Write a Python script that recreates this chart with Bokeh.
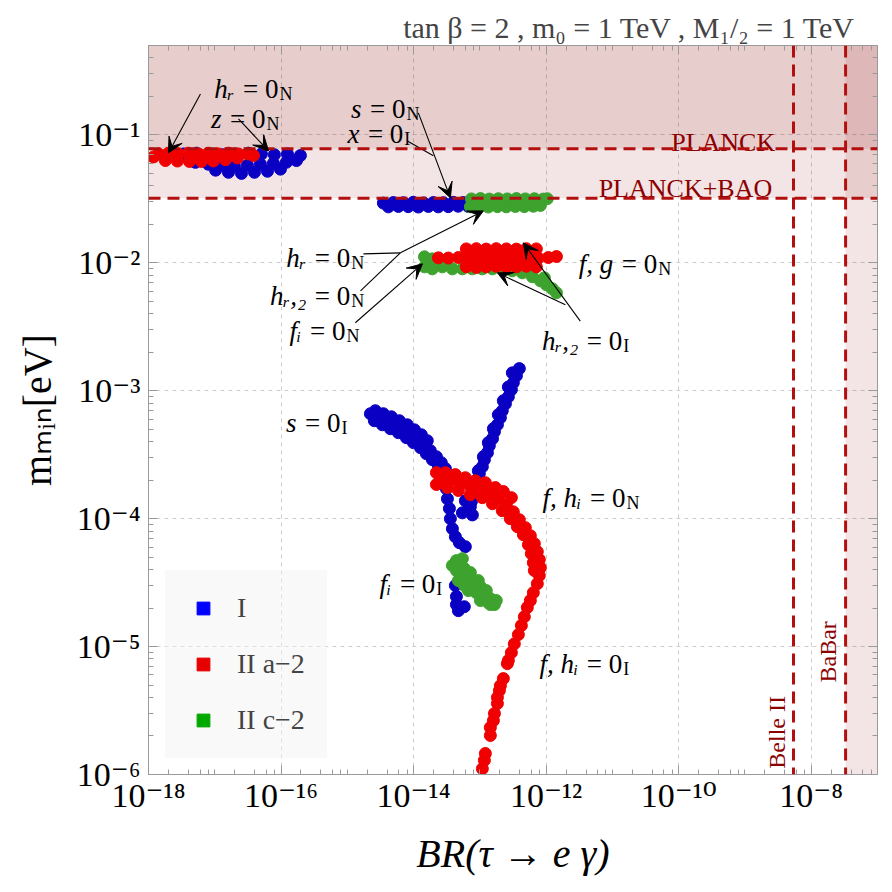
import math
from bokeh.plotting import figure
from bokeh.models import (FixedTicker, LogAxis, Span, BoxAnnotation, Arrow, VeeHead,
                          Legend, LegendItem, ColumnDataSource, Range1d)
from bokeh.core.properties import value
from bokeh.embed import file_html
from bokeh.resources import INLINE

SERIF = "Liberation Serif, DejaVu Serif, serif"
SERIF_SUB = "Liberation Serif, DejaVu Sans, sans-serif"

# ---------------- data ----------------
# Type I (blue)
typeI_br = [
    3.4e-18, 5.3e-18, 8.3e-18, 1.31e-17, 2.05e-17, 3.22e-17, 5.06e-17, 7.94e-17, 1.25e-16, 1.96e-16,
    5.1e-18, 8.0e-18, 1.26e-17, 1.98e-17, 3.11e-17, 4.89e-17, 7.67e-17, 1.2e-16, 1.71e-16,
    1.03e-17, 1.61e-17, 2.53e-17, 3.97e-17, 6.24e-17, 9.79e-17,
    3.5e-15, 4.95e-15, 7.0e-15, 9.9e-15, 1.41e-14, 1.99e-14, 2.81e-14, 3.98e-14, 5.6e-14, 7.98e-14,
    4.17e-15, 5.9e-15, 8.3e-15, 1.18e-14, 1.67e-14, 2.36e-14, 3.34e-14, 4.7e-14, 6.7e-14, 8.85e-14,
    2.23e-15, 2.94e-15, 3.89e-15, 5.13e-15, 6.78e-15, 8.95e-15, 1.14e-14, 1.46e-14, 1.79e-14, 2.21e-14, 2.62e-14, 3.02e-14,
    2.56e-15, 3.38e-15, 4.47e-15, 5.90e-15, 7.78e-15, 9.93e-15, 1.27e-14, 1.56e-14, 1.92e-14, 2.37e-14,
    2.65e-15, 3.50e-15, 4.62e-15, 6.11e-15, 8.05e-15, 1.03e-14, 1.31e-14, 1.61e-14,
    2.92e-14, 3.13e-14, 3.24e-14, 3.47e-14, 3.59e-14, 3.85e-14, 4.27e-14, 4.91e-14, 6.04e-14,
    6.04e-14, 7.19e-14, 7.71e-14, 5.45e-14, 4.27e-14, 4.43e-14, 4.43e-14, 5.83e-14, 4.74e-14,
    3.94e-13, 3.56e-13, 3.20e-13, 2.99e-13, 2.69e-13, 2.43e-13, 2.18e-13, 2.04e-13, 1.84e-13, 1.66e-13,
    1.55e-13, 1.39e-13, 1.30e-13, 1.17e-13, 1.09e-13, 9.82e-14, 9.16e-14, 8.55e-14, 7.98e-14, 7.45e-14, 6.95e-14,
    3.09e-13, 2.69e-13, 2.26e-13, 1.90e-13, 1.60e-13, 1.34e-13, 1.13e-13, 9.48e-14, 8.26e-14, 7.19e-14,
]
typeI_mmin = [
    0.071, 0.072, 0.071, 0.070, 0.071, 0.072, 0.071, 0.070, 0.071, 0.069,
    0.061, 0.059, 0.058, 0.057, 0.058, 0.059, 0.060, 0.061, 0.063,
    0.053, 0.051, 0.050, 0.051, 0.052, 0.054,
    0.0293, 0.0296, 0.0295, 0.0297, 0.0294, 0.0296, 0.0295, 0.0297, 0.0296, 0.0298,
    0.0274, 0.0276, 0.0275, 0.0273, 0.0276, 0.0274, 0.0275, 0.0277, 0.0276, 0.0278,
    6.61e-4, 6.15e-4, 5.83e-4, 5.42e-4, 5.05e-4, 4.61e-4, 4.22e-4, 3.79e-4, 3.40e-4, 3.05e-4, 2.74e-4, 2.46e-4,
    5.83e-4, 5.42e-4, 5.05e-4, 4.70e-4, 4.30e-4, 3.93e-4, 3.59e-4, 3.22e-4, 2.89e-4, 2.59e-4,
    6.98e-4, 6.61e-4, 6.26e-4, 5.83e-4, 5.42e-4, 4.95e-4, 4.53e-4, 4.07e-4,
    2.05e-4, 1.71e-4, 1.43e-4, 1.20e-4, 1.0e-4, 8.35e-5, 7.23e-5, 6.49e-5, 6.04e-5,
    1.38e-4, 1.24e-4, 1.07e-4, 1.11e-4, 3.0e-5, 2.46e-5, 2.13e-5, 2.05e-5, 1.91e-5,
    1.49e-3, 1.31e-3, 1.155e-3, 1.02e-3, 8.97e-4, 7.91e-4, 6.98e-4, 6.15e-4, 5.42e-4, 4.79e-4,
    4.22e-4, 3.72e-4, 3.28e-4, 2.89e-4, 2.55e-4, 2.25e-4, 1.98e-4, 1.75e-4, 1.54e-4, 1.36e-4, 1.20e-4,
    1.38e-3, 1.07e-3, 8.35e-4, 6.49e-4, 5.05e-4, 3.93e-4, 3.05e-4, 2.37e-4, 1.85e-4, 1.43e-4,
]

# Type II c-2 (green)
typeIIc_br = [
    7.45e-14, 1.02e-13, 1.39e-13, 1.90e-13, 2.60e-13, 3.56e-13, 4.85e-13, 6.64e-13, 9.08e-13, 1.04e-12,
    7.2e-14, 9.8e-14, 1.34e-13, 1.84e-13, 2.51e-13, 3.43e-13, 4.69e-13, 6.41e-13, 8.19e-13,
    1.46e-14, 1.46e-14, 1.92e-14, 1.92e-14, 2.72e-14, 3.85e-14, 5.45e-14, 7.7e-14, 1.09e-13, 1.55e-13,
    2.18e-13, 3.09e-13, 4.38e-13, 6.2e-13, 8.19e-13, 1.01e-12, 1.24e-12, 1.43e-12, 6.2e-13, 9.4e-13,
    4.43e-14, 5.45e-14, 4.43e-14, 5.83e-14, 7.19e-14, 4.74e-14, 6.25e-14, 8.26e-14, 1.02e-13, 6.71e-14,
    8.85e-14, 1.17e-13, 1.44e-13, 1.02e-13, 1.34e-13, 1.66e-13,
    3.85e-14, 5.08e-14, 6.71e-14, 7.71e-14, 1.09e-13, 1.44e-13, 9.48e-14, 1.25e-13, 5.83e-14, 1.77e-13,
]
typeIIc_mmin = [
    0.0316, 0.0318, 0.0315, 0.0317, 0.0316, 0.0318, 0.0316, 0.0317, 0.0315, 0.0317,
    0.0274, 0.0275, 0.0273, 0.0275, 0.0274, 0.0276, 0.0275, 0.0277, 0.0281,
    0.01114, 0.0093, 0.01074, 0.00897, 0.0093, 0.00897, 0.00897, 0.00897, 0.00897, 0.00897,
    0.00897, 0.00866, 0.00835, 0.00778, 0.00723, 0.00673, 0.00627, 0.00583, 0.00866, 0.00764,
    4.70e-5, 4.87e-5, 3.93e-5, 4.07e-5, 3.79e-5, 3.28e-5, 3.28e-5, 3.16e-5, 2.94e-5, 2.74e-5,
    2.64e-5, 2.55e-5, 2.37e-5, 2.29e-5, 2.21e-5, 2.13e-5,
    4.30e-5, 3.59e-5, 3.52e-5, 2.84e-5, 2.64e-5, 2.13e-5, 3.28e-5, 2.74e-5, 3.0e-5, 2.29e-5,
]

# Type II a-2 (red)
typeIIa_br = [
    1.19e-18, 1.42e-18, 2.0e-18, 2.83e-18, 4.0e-18, 5.7e-18, 8.0e-18, 1.14e-17, 1.61e-17, 2.28e-17, 3.2e-17, 3.84e-17,
    1.8e-18, 2.73e-18, 4.15e-18, 6.3e-18, 9.5e-18, 1.45e-17, 2.2e-17,
    6.25e-14, 8.85e-14, 1.25e-13, 1.77e-13, 2.51e-13, 3.56e-13, 5.02e-13, 7.11e-13,
    2.37e-14, 3.35e-14, 4.74e-14, 6.7e-14, 9.5e-14, 1.34e-13, 1.9e-13, 2.69e-13, 3.81e-13, 5.4e-13, 7.6e-13, 1.08e-12, 1.43e-12,
    6.25e-14, 8.85e-14, 1.25e-13, 1.77e-13, 2.51e-13, 3.56e-13, 5.02e-13, 7.11e-13,
    7.45e-14, 1.05e-13, 1.49e-13, 2.11e-13, 2.99e-13, 4.23e-13, 5.98e-13,
    7.45e-14, 1.05e-13, 1.49e-13, 2.11e-13, 2.99e-13, 4.23e-13, 5.98e-13,
    2.54e-14, 3.59e-14, 5.08e-14, 7.19e-14, 1.02e-13, 1.44e-13, 1.90e-13, 2.51e-13, 3.20e-13, 3.94e-13,
    4.85e-13, 5.78e-13, 6.64e-13, 7.36e-13, 7.89e-13, 8.18e-13, 7.89e-13, 7.36e-13, 6.41e-13, 5.78e-13,
    5.20e-13, 4.69e-13, 4.23e-13, 3.81e-13, 3.31e-13, 2.99e-13, 2.69e-13,
    3.02e-14, 4.27e-14, 6.04e-14, 8.55e-14, 1.21e-13, 1.71e-13, 2.26e-13, 2.99e-13,
    3.24e-14, 4.74e-14, 7.19e-14, 1.09e-13, 1.55e-13, 2.18e-13, 2.88e-13, 3.68e-13, 4.53e-13, 5.40e-13,
    5.98e-13, 6.41e-13, 6.64e-13, 2.21e-14, 2.21e-14, 2.60e-13,
    2.26e-13, 2.04e-13, 1.97e-13, 1.84e-13, 1.84e-13, 1.66e-13, 1.60e-13, 1.44e-13, 1.44e-13, 1.21e-13, 1.17e-13, 1.09e-13,
]
typeIIa_mmin = [
    0.0673, 0.071, 0.072, 0.071, 0.072, 0.071, 0.072, 0.071, 0.072, 0.071, 0.071, 0.069,
    0.063, 0.0625, 0.062, 0.062, 0.0625, 0.064, 0.066,
    0.01285, 0.0129, 0.0128, 0.0129, 0.01285, 0.0128, 0.0129, 0.01285,
    0.01094, 0.0109, 0.0110, 0.01094, 0.0109, 0.0110, 0.01094, 0.0109, 0.0110, 0.01094, 0.0109, 0.0110, 0.0112,
    0.0093, 0.0092, 0.0093, 0.0094, 0.0092, 0.0093, 0.0094, 0.0093,
    0.0120, 0.0119, 0.0120, 0.0121, 0.0119, 0.0120, 0.0121,
    0.0102, 0.0101, 0.0102, 0.0103, 0.0101, 0.0102, 0.0103,
    2.05e-4, 1.98e-4, 1.88e-4, 1.78e-4, 1.69e-4, 1.57e-4, 1.43e-4, 1.29e-4, 1.13e-4, 9.82e-5,
    8.51e-5, 7.36e-5, 6.38e-5, 5.52e-5, 4.79e-5, 4.14e-5, 3.59e-5, 3.10e-5, 2.64e-5, 2.29e-5,
    2.02e-5, 1.71e-5, 1.46e-5, 1.24e-5, 1.05e-5, 8.97e-6, 7.78e-6,
    2.29e-4, 2.21e-4, 2.09e-4, 1.98e-4, 1.91e-4, 1.75e-4, 1.63e-4, 1.46e-4,
    1.75e-4, 1.66e-4, 1.54e-4, 1.46e-4, 1.31e-4, 1.155e-4, 1.0e-4, 8.66e-5, 7.50e-5, 6.26e-5,
    5.33e-5, 4.53e-5, 3.93e-5, 2.29e-4, 1.85e-4, 7.36e-6,
    5.62e-6, 4.95e-6, 4.53e-6, 4.0e-6, 3.59e-6, 3.0e-6, 2.64e-6, 2.33e-6, 2.02e-6, 1.46e-6, 1.29e-6, 1.11e-6,
]

# bounds
planck = 0.078
planck_bao = 0.032
belle2 = 5.4e-9
babar = 3.3e-8

# tick labels
x_major = [1e-18, 1e-16, 1e-14, 1e-12, 1e-10, 1e-8]
x_labels = ["10⁻¹⁸", "10⁻¹⁶", "10⁻¹⁴", "10⁻¹²", "10⁻¹⁰", "10⁻⁸"]
y_major = [1e-6, 1e-5, 1e-4, 1e-3, 1e-2, 1e-1]
y_labels = ["10⁻⁶", "10⁻⁵", "10⁻⁴", "10⁻³", "10⁻²", "10⁻¹"]

# annotations (anchor = junction between "0" and its subscript)
ann_var = ["hᵣ", "z", "s", "x", "hᵣ", "hᵣ,₂", "fᵢ", "f, g", "hᵣ,₂", "s", "f, hᵢ", "fᵢ", "f, hᵢ"]
ann_eq = ["= 0"] * 13
ann_sub = ["N", "N", "N", "I", "N", "N", "N", "N", "I", "I", "N", "I", "I"]
ann_x = [9.14e-17, 5.82e-17, 7.52e-15, 7.01e-15, 1.11e-15, 1.11e-15, 9.35e-16,
         4.75e-11, 1.41e-11, 7.87e-16, 1.57e-11, 2.13e-14, 1.41e-11]
ann_y = [0.2286, 0.1334, 0.1596, 0.1019, 0.01094, 5.52e-3, 2.94e-3,
         9.82e-3, 2.45e-3, 5.62e-4, 1.46e-4, 3.10e-5, 7.36e-6]

# arrows with heads: (x_start, y_start, x_end, y_end)
arrows = [
    (6.08e-18, 0.2089, 2.0e-18, 0.0723),
    (2.28e-17, 0.1334, 6.46e-17, 0.075),
    (1.18e-14, 0.1486, 3.59e-14, 0.0322),
    (6.32e-15, 0.01197, 1.13e-13, 0.02547),
    (1.32e-15, 3.40e-3, 1.36e-14, 9.82e-3),
    (3.28e-12, 3.50e-3, 4.53e-13, 0.01432),
    (1.95e-12, 4.70e-3, 1.84e-13, 8.35e-3),
]
# plain connector lines
lines = [
    (8.05e-15, 0.0897, 1.99e-14, 0.0686),
    (1.75e-15, 0.01175, 6.32e-15, 0.01197),
    (1.58e-15, 6.04e-3, 6.32e-15, 0.01197),
]

# ---------------- figure ----------------
BLUE = "#0a00c4"
RED = "#f00000"
GREEN = "#3ea32e"
DRED = "#b30f0f"
LRED = "#8b0000"
GRAY = "#9a9a9a"

p = figure(width=892, height=892, x_axis_type="log", y_axis_type="log",
           x_range=Range1d(1e-18, 1e-7), y_range=Range1d(1e-6, 0.5),
           output_backend="svg", toolbar_location=None,
           min_border_left=148, min_border_right=15, min_border_top=45, min_border_bottom=118)
p.background_fill_color = "white"
p.outline_line_color = GRAY

xt = FixedTicker(ticks=x_major,
                 minor_ticks=[k * 10.0 ** d for d in range(-18, -7) for k in (1, 2, 4, 6, 8)])
yt = FixedTicker(ticks=y_major,
                 minor_ticks=[k * 10.0 ** d for d in range(-6, 0) for k in range(2, 10)])

for ax, tk in ((p.xaxis[0], xt), (p.yaxis[0], yt)):
    ax.ticker = tk
    ax.major_tick_in = 9
    ax.major_tick_out = 0
    ax.minor_tick_in = 5
    ax.minor_tick_out = 0
    ax.axis_line_color = GRAY
    ax.major_tick_line_color = GRAY
    ax.minor_tick_line_color = GRAY
    ax.major_label_text_font = SERIF
    ax.major_label_text_font_size = "34px"
    ax.major_label_text_color = "black"
    ax.axis_label_text_color = "black"

p.xaxis[0].major_label_overrides = dict(zip(x_major, x_labels))
p.yaxis[0].major_label_overrides = dict(zip(y_major, y_labels))
p.xaxis[0].major_label_standoff = 2
p.yaxis[0].major_label_standoff = 8
p.xaxis[0].axis_label = "BR(τ → e γ)"
p.xaxis[0].axis_label_text_font = SERIF
p.xaxis[0].axis_label_text_font_style = "italic"
p.xaxis[0].axis_label_text_font_size = "40px"
p.xaxis[0].axis_label_standoff = 14
p.yaxis[0].axis_label = "mₘᵢₙ[eV]"
p.yaxis[0].axis_label_text_font = SERIF_SUB
p.yaxis[0].axis_label_text_font_style = "normal"
p.yaxis[0].axis_label_text_font_size = "40px"
p.yaxis[0].axis_label_standoff = 14

for loc, tk in (("above", xt), ("right", yt)):
    ax = LogAxis(ticker=tk, major_tick_in=9, major_tick_out=0, minor_tick_in=5, minor_tick_out=0,
                 axis_line_color=GRAY, major_tick_line_color=GRAY, minor_tick_line_color=GRAY,
                 major_label_text_font_size="2px", major_label_text_alpha=0,
                 major_label_standoff=0)
    p.add_layout(ax, loc)

p.xgrid.ticker = xt
p.ygrid.ticker = yt
for g in (p.xgrid[0], p.ygrid[0]):
    g.grid_line_color = "#cccccc"
    g.grid_line_dash = "4 4"
    g.grid_line_width = 1

# title
p.title.text = "tan β = 2 , m₀ = 1 TeV , M₁/₂ = 1 TeV"
p.title.align = "right"
p.title.text_font = SERIF
p.title.text_font_size = "30px"
p.title.text_font_style = "normal"
p.title.standoff = 4
p.title.offset = 22

# shaded exclusion regions
for kw in (dict(bottom=planck_bao), dict(bottom=planck), dict(left=babar)):
    p.add_layout(BoxAnnotation(fill_color="#8b0000", fill_alpha=0.1, line_alpha=0,
                               level="underlay", **kw))

# legend glyph renderers (one tiny square hidden inside each cloud)
r1 = p.scatter([typeI_br[5]], [typeI_mmin[5]], marker="square", size=1, color="#0000ff")
r2 = p.scatter([typeIIa_br[5]], [typeIIa_mmin[5]], marker="square", size=1, color="#e60000")
r3 = p.scatter([typeIIc_br[5]], [typeIIc_mmin[5]], marker="square", size=1, color="#00a800")

# data
p.scatter(typeI_br, typeI_mmin, size=12, color=BLUE)
p.scatter(typeIIc_br, typeIIc_mmin, size=12, color=GREEN)
p.scatter(typeIIa_br, typeIIa_mmin, size=12, color=RED)

# dashed bound lines
for loc, dim in ((planck, "width"), (planck_bao, "width"), (belle2, "height"), (babar, "height")):
    p.add_layout(Span(location=loc, dimension=dim, line_color=DRED, line_width=3, line_dash="12 7"))

# bound labels
p.text(x=[2.86e-9, 2.58e-9], y=[0.0866, 0.0379], text=["PLANCK", "PLANCK+BAO"],
       text_align="right", text_baseline="alphabetic", text_font=value(SERIF),
       text_font_size="26px", text_color=LRED)
p.text(x=[3.0e-9, 1.82e-8], y=[1.11e-6, 5.24e-6], text=["Belle II", "BaBar"], angle=math.pi / 2,
       text_align="left", text_baseline="alphabetic", text_font=value(SERIF),
       text_font_size="24px", text_color=LRED)

# annotations: italic variable, upright "= 0", small upright subscript
src = ColumnDataSource(dict(x=ann_x, y=ann_y, var=ann_var, eq=ann_eq, sub=ann_sub))
p.text(x="x", y="y", text="var", source=src, text_align="right", text_baseline="alphabetic",
       x_offset=-44, text_font=value(SERIF), text_font_size="27px", text_font_style="italic",
       text_color="black")
p.text(x="x", y="y", text="eq", source=src, text_align="right", text_baseline="alphabetic",
       text_font=value(SERIF), text_font_size="27px", text_color="black")
p.text(x="x", y="y", text="sub", source=src, text_align="left", text_baseline="alphabetic",
       x_offset=1, y_offset=5, text_font=value(SERIF), text_font_size="18px", text_color="black")

for (x0, y0, x1, y1) in arrows:
    p.add_layout(Arrow(end=VeeHead(size=15, fill_color="black", line_color="black", line_width=1),
                       x_start=x0, y_start=y0, x_end=x1, y_end=y1,
                       line_color="black", line_width=1.1))
p.segment(x0=[l[0] for l in lines], y0=[l[1] for l in lines],
          x1=[l[2] for l in lines], y1=[l[3] for l in lines], line_color="black", line_width=1.1)

# legend
legend = Legend(items=[LegendItem(label="I", renderers=[r1]),
                       LegendItem(label="II a−2", renderers=[r2]),
                       LegendItem(label="II c−2", renderers=[r3])],
                location=(17, 16), glyph_width=32, glyph_height=32, spacing=24, padding=22,
                label_standoff=18, margin=0, label_text_font=SERIF, label_text_font_size="28px",
                background_fill_color="#f4f4f4", background_fill_alpha=0.5, border_line_alpha=0)
p.add_layout(legend)

open("out.html", "w").write(file_html(p, INLINE))
